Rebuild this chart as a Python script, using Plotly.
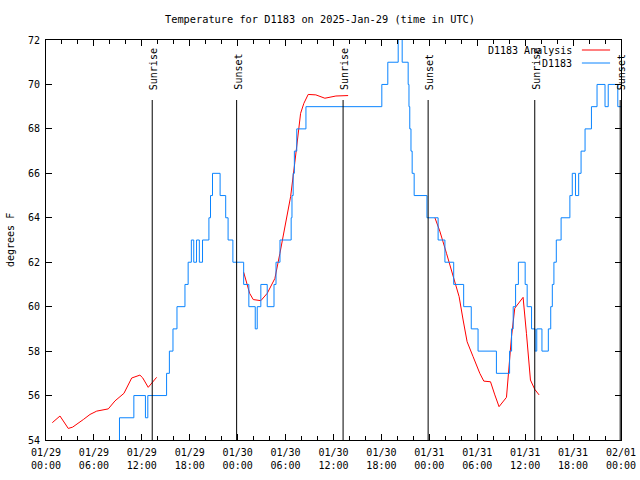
import pandas as pd
import plotly.graph_objects as go

START = pd.Timestamp("2025-01-29 00:00")

# Observed station temperatures (hours since 01/29 00:00 UTC, degrees F) - step data
blue_hours = [8.8, 9.2, 11.0, 12.45, 12.75, 15.1, 15.45, 15.9, 16.4, 17.4, 17.8, 18.2, 18.5,
              18.85, 19.2, 19.6, 20.4, 20.6, 20.85, 21.8, 22.5, 22.8, 23.4, 24.75, 25.4,
              26.2, 26.45, 26.9, 27.7, 28.55, 28.8, 29.3, 30.7, 30.8, 30.95, 31.1, 31.4,
              32.55, 42.05, 42.8, 44.1, 44.6, 45.35, 45.45, 45.55, 45.7, 45.85, 46.1,
              47.7, 49.1, 49.95, 51.05, 52.3, 53.25, 54.1, 56.4, 58.05, 58.3, 58.5, 58.8,
              59.15, 60.0, 60.25, 60.8, 61.25, 61.45, 62.1, 62.9, 63.2, 63.4, 63.6, 63.9,
              64.5, 65.6, 65.9, 66.3, 66.7, 67.0, 67.5, 68.3, 69.0, 70.0, 70.4, 71.6, 72.0]
blue_vals = [53, 55, 56, 55, 56, 57, 58, 59, 60, 61, 62, 63, 62,
             63, 62, 63, 64, 65, 66, 65, 64, 63, 62, 61, 60,
             59, 60, 61, 60, 61, 62, 63, 64, 65, 66, 67, 68,
             69, 70, 71, 73, 71, 70, 69, 68, 67, 66, 65,
             64, 63, 62, 61, 60, 59, 58, 57, 58, 59, 60, 61,
             62, 61, 60, 59, 58, 59, 58, 59, 60, 61, 62, 63,
             64, 65, 66, 65, 66, 67, 68, 69, 70, 69, 70, 69, 69]

# Analysis temperatures, three segments
red_hours_1 = [0.79, 1.75, 2.79, 3.34, 4.67, 5.51, 6.35, 7.17, 7.8, 8.64, 9.76, 10.73,
               11.26, 11.76, 12.1, 12.8, 13.85]
red_vals_1 = [54.78, 55.08, 54.52, 54.58, 54.92, 55.15, 55.3, 55.35, 55.4, 55.76, 56.1, 56.79,
              56.85, 56.92, 56.8, 56.37, 56.82]
red_hours_2 = [24.75, 25.1, 25.5, 25.95, 26.9, 27.7, 28.66, 29.29, 29.91, 30.63, 31.16, 31.58,
               31.88, 32.29, 32.83, 33.79, 34.92, 36.3, 37.83]
red_vals_2 = [61.55, 61.1, 60.6, 60.32, 60.27, 60.6, 61.27, 62.4, 63.6, 64.95, 66.5, 67.95,
              68.7, 69.15, 69.55, 69.53, 69.38, 69.48, 69.5]
red_hours_3 = [48.7, 48.9, 49.31, 50.15, 50.98, 51.73, 52.23, 52.73, 53.48, 54.32, 54.82, 55.66,
               56.2, 56.73, 57.66, 57.98, 58.29, 58.7, 59.32, 59.74, 60.16, 60.66, 61.2, 61.74]
red_vals_3 = [64.0, 63.83, 63.4, 62.4, 61.35, 60.45, 59.4, 58.42, 57.75, 57.0, 56.65, 56.62,
              56.03, 55.5, 55.92, 57.45, 58.65, 59.93, 60.23, 60.42, 58.8, 56.7, 56.28, 56.03]

# Sun events (hours since start)
sun_hours = [13.3, 23.87, 37.2, 47.85, 61.2, 71.9]
sun_labels = ["Sunrise", "Sunset", "Sunrise", "Sunset", "Sunrise", "Sunset"]


def to_time(hours):
    return [None if h is None else START + pd.Timedelta(hours=h) for h in hours]


red_hours = red_hours_1 + [None] + red_hours_2 + [None] + red_hours_3
red_vals = red_vals_1 + [None] + red_vals_2 + [None] + red_vals_3

FONT = "DejaVu Sans Mono"
BLUE = "#0a84ff"
RED = "#ff0000"

fig = go.Figure()
fig.add_trace(go.Scatter(x=to_time(red_hours), y=red_vals, mode="lines", name="D1183 Analysis",
                         line=dict(color=RED, width=1), connectgaps=False))
fig.add_trace(go.Scatter(x=to_time(blue_hours), y=blue_vals, mode="lines", name="D1183",
                         line=dict(color=BLUE, width=1, shape="hv")))

shapes = []
annotations = []
for h, lab in zip(sun_hours, sun_labels):
    t = START + pd.Timedelta(hours=h)
    shapes.append(dict(type="line", xref="x", yref="paper", x0=t, x1=t, y0=0, y1=0.85,
                       line=dict(color="black", width=1)))
    annotations.append(dict(x=t, y=0.87, xref="x", yref="paper", text=lab, textangle=-90,
                            showarrow=False, xanchor="center", yanchor="bottom", xshift=1,
                            font=dict(family=FONT, size=10, color="black")))

# legend drawn gnuplot-style (text left of the sample line)
for name, col, yp in [("D1183 Analysis", RED, 0.975), ("D1183", BLUE, 0.9425)]:
    annotations.append(dict(x=0.918, y=yp, xref="paper", yref="paper", text=name,
                            showarrow=False, xanchor="right", yanchor="middle",
                            font=dict(family=FONT, size=10, color="black")))
    shapes.append(dict(type="line", xref="paper", yref="paper", x0=0.932, x1=0.981,
                       y0=yp, y1=yp, line=dict(color=col, width=1)))

# y-axis title placed as an annotation at the far left
annotations.append(dict(x=(10 - 46) / 575, y=0.5, xref="paper", yref="paper", text="degrees F",
                        textangle=-90, showarrow=False, xanchor="center", yanchor="middle",
                        font=dict(family=FONT, size=10, color="black")))

fig.update_layout(
    width=640, height=480,
    margin=dict(l=46, r=19, t=40, b=40, autoexpand=False),
    paper_bgcolor="white", plot_bgcolor="white",
    showlegend=False,
    font=dict(family=FONT, size=10, color="black"),
    title=dict(text="Temperature for D1183 on 2025-Jan-29 (time in UTC)", x=0.5, xanchor="center",
               y=1 - 19 / 480, yanchor="middle", font=dict(family=FONT, size=10.3, color="black")),
    shapes=shapes, annotations=annotations,
)
fig.update_xaxes(
    type="date", range=[START, START + pd.Timedelta(hours=72)], automargin=False,
    tick0=START, dtick=6 * 3600 * 1000, tickformat="%m/%d<br>%H:%M",
    ticks="inside", ticklen=6, tickcolor="black", showline=True, linecolor="black",
    linewidth=1, mirror="ticks", showgrid=False, zeroline=False, ticklabelstandoff=3,
    minor=dict(dtick=2 * 3600 * 1000, ticks="inside", ticklen=4, tickcolor="black", showgrid=False),
    tickfont=dict(family=FONT, size=10, color="black"),
)
fig.update_yaxes(
    range=[54, 72], dtick=2, ticks="inside", ticklen=6, tickcolor="black", showline=True,
    linecolor="black", linewidth=1, mirror="ticks", showgrid=False, zeroline=False,
    automargin=False, ticklabelstandoff=3,
    tickfont=dict(family=FONT, size=10, color="black"),
)

fig.write_html("out.html", config={"displayModeBar": False},
               post_script="document.body.style.margin='0';")
